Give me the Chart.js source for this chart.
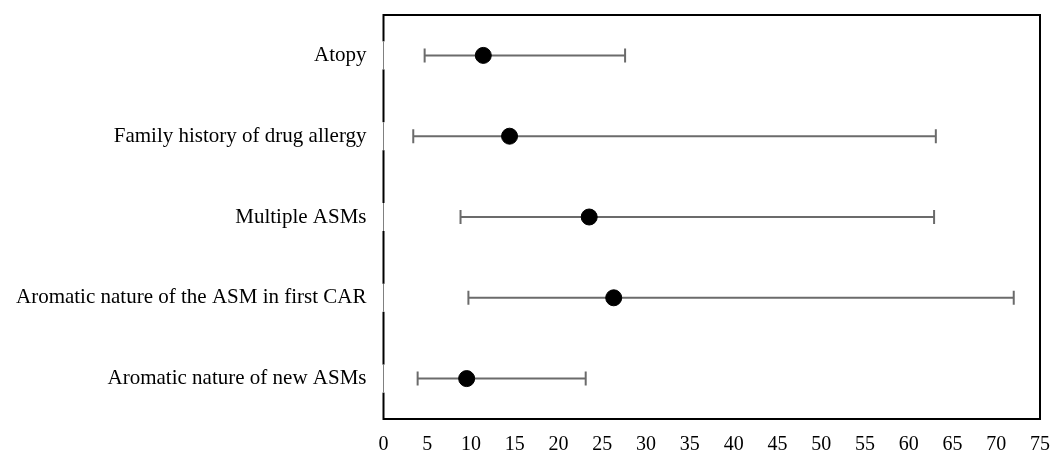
<!DOCTYPE html>
<html>
<head>
<meta charset="utf-8">
<script src="https://cdn.jsdelivr.net/npm/chart.js@4.4.1/dist/chart.umd.min.js"></script>
<style>
  html, body { margin: 0; padding: 0; background: #fff; }
  #wrap { width: 1051px; height: 452px; }
</style>
</head>
<body>
<div id="wrap"><canvas id="forestChart"></canvas></div>
<script>
// valores
const categories = [
    'Atopy',
    'Family history of drug allergy',
    'Multiple ASMs',
    'Aromatic nature of the ASM in first CAR',
    'Aromatic nature of new ASMs'
];
const oddsRatio = [11.4, 14.4, 23.5, 26.3, 9.5];
const lowerCI = [4.7, 3.4, 8.8, 9.7, 3.9];
const upperCI = [27.6, 63.1, 62.9, 72.0, 23.1];
const xTicks = [0, 5, 10, 15, 20, 25, 30, 35, 40, 45, 50, 55, 60, 65, 70, 75];

// uma linha por categoria para o intervalo de confiança
const ciDatasets = categories.map((cat, i) => ({
    type: 'line',
    order: 2,
    data: [{ x: lowerCI[i], y: cat }, { x: upperCI[i], y: cat }],
    borderColor: '#6b6b6b',
    borderWidth: 2,
    pointStyle: 'line',
    pointRotation: 90,
    pointRadius: 7,
    pointBorderColor: '#6b6b6b',
    pointBorderWidth: 2,
    pointHoverRadius: 7
}));

// ponto da razão de chances, desenhado por cima das linhas
const pointDataset = {
    type: 'scatter',
    order: 1,
    data: categories.map((cat, i) => ({ x: oddsRatio[i], y: cat })),
    backgroundColor: '#000',
    borderColor: '#000',
    pointRadius: 8,
    pointHoverRadius: 8
};

// moldura preta em volta da área do gráfico (eixo esquerdo cinza junto às categorias)
const framePlugin = {
    id: 'frame',
    afterDraw(chart) {
        const { ctx, chartArea: a } = chart;
        const yScale = chart.scales.y;
        ctx.save();
        ctx.strokeStyle = '#000';
        ctx.lineWidth = 2;
        ctx.strokeRect(a.left, a.top, a.right - a.left, a.bottom - a.top);
        categories.forEach((cat, i) => {
            const py = yScale.getPixelForValue(i);
            ctx.fillStyle = '#fff';
            ctx.fillRect(a.left - 1.5, py - 14, 3, 28);
            ctx.strokeStyle = '#808080';
            ctx.lineWidth = 1;
            ctx.beginPath();
            ctx.moveTo(a.left, py - 14);
            ctx.lineTo(a.left, py + 14);
            ctx.stroke();
        });
        ctx.restore();
    }
};

Chart.defaults.font.family = '"Liberation Serif", "Times New Roman", serif';
Chart.defaults.color = '#000';

new Chart(document.getElementById('forestChart'), {
    data: { datasets: [...ciDatasets, pointDataset] },
    options: {
        responsive: true,
        maintainAspectRatio: false,
        animation: false,
        layout: { padding: { top: 15, right: 11, left: 0, bottom: 0 } },
        plugins: {
            legend: { display: false },
            tooltip: { enabled: false }
        },
        scales: {
            x: {
                type: 'linear',
                min: 0,
                max: 75,
                afterBuildTicks: axis => { axis.ticks = xTicks.map(v => ({ value: v })); },
                grid: { display: false, drawTicks: false },
                border: { display: false },
                ticks: { font: { size: 20 }, padding: 14, maxRotation: 0, autoSkip: false },
                afterFit: axis => {
                    axis.height = 33;
                    axis.paddingLeft = 0;
                    axis.paddingRight = 0;
                }
            },
            y: {
                type: 'category',
                labels: categories,
                offset: true,
                grid: { display: false, drawTicks: false },
                border: { display: false },
                ticks: { font: { size: 21 }, padding: 17 },
                afterFit: axis => {
                    axis.width = 383.5;
                    axis.paddingTop = 0;
                    axis.paddingBottom = 0;
                }
            }
        }
    },
    plugins: [framePlugin]
});
</script>
</body>
</html>
